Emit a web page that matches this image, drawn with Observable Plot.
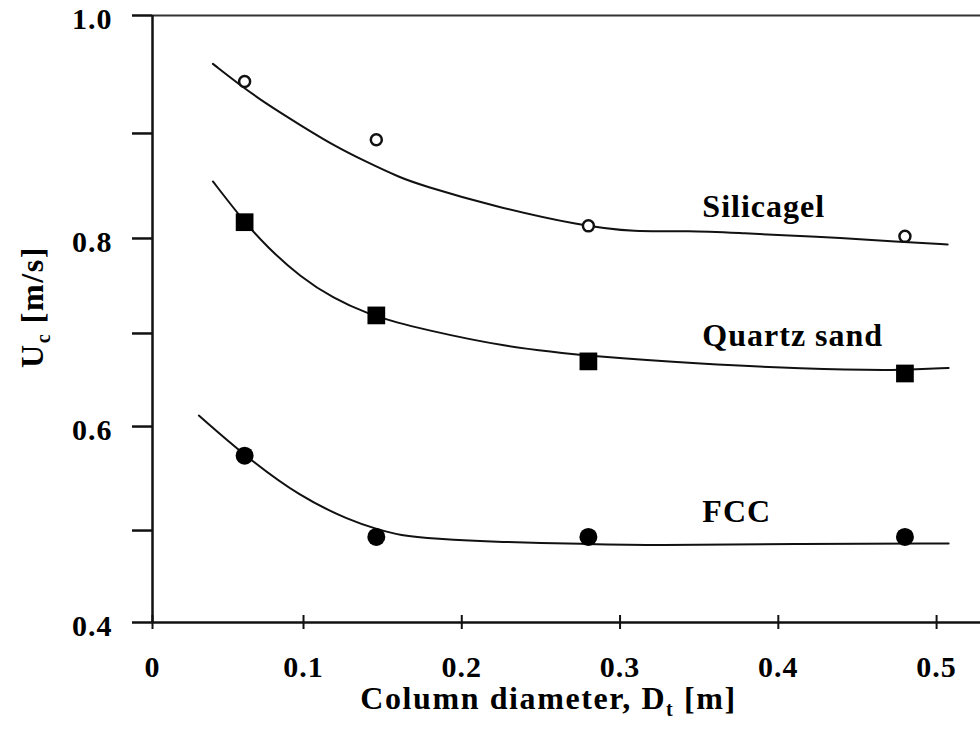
<!DOCTYPE html>
<html>
<head>
<meta charset="utf-8">
<script src="https://cdn.jsdelivr.net/npm/d3@7"></script>
<script src="https://cdn.jsdelivr.net/npm/@observablehq/plot@0.6"></script>
<style>
  html, body { margin: 0; padding: 0; background: #fff; }
  #chart svg text { letter-spacing: 1px; }
  #chart svg text.wide { letter-spacing: 1.6px; }
</style>
</head>
<body>
<div id="chart"></div>
<script>
// ---- Tick values ----
const xTicks = [0, 0.1, 0.2, 0.3, 0.4, 0.5];
const yTicks = [0.4, 0.5, 0.6, 0.7, 0.8, 0.9, 1.0];
const yLabeled = [0.4, 0.6, 0.8, 1.0];

// ---- Measured points (column diameter Dt [m], Uc [m/s]) ----
const pointX = [0.061, 0.146, 0.28, 0.48];
const silicagelY = [0.944, 0.894, 0.812, 0.802];
const quartzY = [0.8155, 0.719, 0.670, 0.657];
const fccY = [0.572, 0.493, 0.493, 0.493];

// ---- Fitted curves ----
const silicagelCurveX = [0.040, 0.058, 0.0755, 0.098, 0.119, 0.140, 0.161, 0.174, 0.219, 0.2755, 0.309, 0.343, 0.377, 0.422, 0.4785, 0.507];
const silicagelCurveY = [0.959, 0.941, 0.925, 0.907, 0.8886, 0.8727, 0.858, 0.851, 0.831, 0.812, 0.806, 0.8076, 0.805, 0.802, 0.7964, 0.7937];
const quartzCurveX = [0.040, 0.0609, 0.076, 0.098, 0.119, 0.140, 0.161, 0.174, 0.2245, 0.2877, 0.351, 0.414, 0.477, 0.5076];
const quartzCurveY = [0.8543, 0.8155, 0.7908, 0.7593, 0.7368, 0.721, 0.7105, 0.7053, 0.686, 0.6745, 0.6674, 0.662, 0.660, 0.663];
const fccCurveX = [0.0307, 0.061, 0.098, 0.1297, 0.146, 0.161, 0.182, 0.2245, 0.277, 0.319, 0.414, 0.5076];
const fccCurveY = [0.6118, 0.572, 0.532, 0.5096, 0.5016, 0.4946, 0.491, 0.4873, 0.4855, 0.4837, 0.4855, 0.486];

// ---- Series labels ----
const seriesNames = ["Silicagel", "Quartz sand", "FCC"];
const labelX = [0.352, 0.352, 0.352];
const labelY = [0.830, 0.698, 0.518];

const xTitle = "Column diameter, D_t [m]";
const yTitle = "U_c [m/s]";

const toPts = (xs, ys) => xs.map((x, i) => ({x, y: ys[i]}));
const silicagelPts = toPts(pointX, silicagelY);
const quartzPts = toPts(pointX, quartzY);
const fccPts = toPts(pointX, fccY);
const labels = seriesNames.map((name, i) => ({name, x: labelX[i], y: labelY[i]}));

// Calibration of the (slightly uneven) printed axes: maps axis values onto evenly spaced positions
const xWarp = d3.scaleLinear().domain([0, 0.1, 0.5]).range([0, 0.0963, 0.5]);
const yWarp = d3.scaleLinear().domain([0.4, 0.5, 0.6, 0.7, 0.8, 0.9, 1.0])
  .range([0.4, 0.4909, 0.5937, 0.6857, 0.7796, 0.8834, 1.0]);
const xTickPos = xTicks.map(xWarp);
const yTickPos = yTicks.map(yWarp);
const yLabelPos = yLabeled.map(yWarp);
const unwarp = (w, d) => Math.round(w.invert(d) * 10) / 10;

const chart = Plot.plot({
  width: 980,
  height: 729,
  marginLeft: 152,
  marginRight: 0,
  marginTop: 15,
  marginBottom: 107,
  style: {
    fontFamily: "'Liberation Serif', 'Times New Roman', serif",
    fontWeight: "bold",
    fontSize: "30px",
    color: "black",
    background: "white"
  },
  x: {domain: [0, 0.528], transform: xWarp, label: null},
  y: {domain: [0.4, 1.0], transform: yWarp, label: null},
  marks: [
    // frame lines
    Plot.ruleY([1.0], {stroke: "#333", strokeWidth: 2.2}),
    Plot.ruleY([0.4], {stroke: "#111", strokeWidth: 2.5}),
    Plot.ruleX([0], {stroke: "#111", strokeWidth: 2.5}),
    // y axis: ticks at every 0.1, labels at 0.2 steps
    Plot.axisY({ticks: yTickPos, tickSize: 20, strokeWidth: 2.5, stroke: "#111", tickFormat: () => "", label: null}),
    Plot.axisY({ticks: yLabelPos, tickSize: 0, tickPadding: 40, dy: 4,
      tickFormat: d => unwarp(yWarp, d).toFixed(1), fontSize: 30, fontWeight: "bold", label: null}),
    // x axis: ticks crossing the axis line
    Plot.axisX({ticks: xTickPos, tickSize: 14, dy: -7, strokeWidth: 2, stroke: "#111", tickFormat: () => "", label: null}),
    Plot.axisX({ticks: xTickPos, tickSize: 0, tickPadding: 33,
      tickFormat: d => { const v = unwarp(xWarp, d); return v === 0 ? "0" : v.toFixed(1); },
      fontSize: 30, fontWeight: "bold", label: null}),
    // curves
    Plot.line(toPts(silicagelCurveX, silicagelCurveY), {x: "x", y: "y", curve: "basis", stroke: "#111", strokeWidth: 2}),
    Plot.line(toPts(quartzCurveX, quartzCurveY), {x: "x", y: "y", curve: "basis", stroke: "#111", strokeWidth: 2}),
    Plot.line(toPts(fccCurveX, fccCurveY), {x: "x", y: "y", curve: "basis", stroke: "#111", strokeWidth: 2}),
    // points
    Plot.dot(silicagelPts, {x: "x", y: "y", r: 5.5, fill: "white", stroke: "#111", strokeWidth: 2.5}),
    Plot.dot(quartzPts, {x: "x", y: "y", symbol: "square", r: 10, fill: "#000", stroke: "none"}),
    Plot.dot(fccPts, {x: "x", y: "y", r: 9, fill: "#000", stroke: "none"}),
    // series labels
    Plot.text(labels, {x: "x", y: "y", text: "name", textAnchor: "start", fontSize: 32, fontWeight: "bold"}),
    // axis titles
    Plot.text([xTitle], {frameAnchor: "bottom", lineAnchor: "middle", textAnchor: "middle", dy: 76, dx: -18, fontSize: 32, fontWeight: "bold"}),
    Plot.text([yTitle], {frameAnchor: "left", lineAnchor: "middle", textAnchor: "middle", rotate: -90, dx: -120, dy: -12, fontSize: 32, fontWeight: "bold"})
  ]
});

document.getElementById("chart").appendChild(chart);

// Subscripts in axis titles
function addSubscript(full, before, sub, after) {
  d3.select(chart).selectAll("text")
    .filter(function () { return this.textContent === full; })
    .each(function () {
      const t = d3.select(this).classed("wide", true);
      t.text(null);
      t.append("tspan").text(before);
      t.append("tspan").attr("dy", 7).attr("font-size", 20).text(sub);
      t.append("tspan").attr("dy", -7).text(after);
    });
}
addSubscript(xTitle, "Column diameter, D", "t", " [m]");
addSubscript(yTitle, "U", "c", " [m/s]");
</script>
</body>
</html>
